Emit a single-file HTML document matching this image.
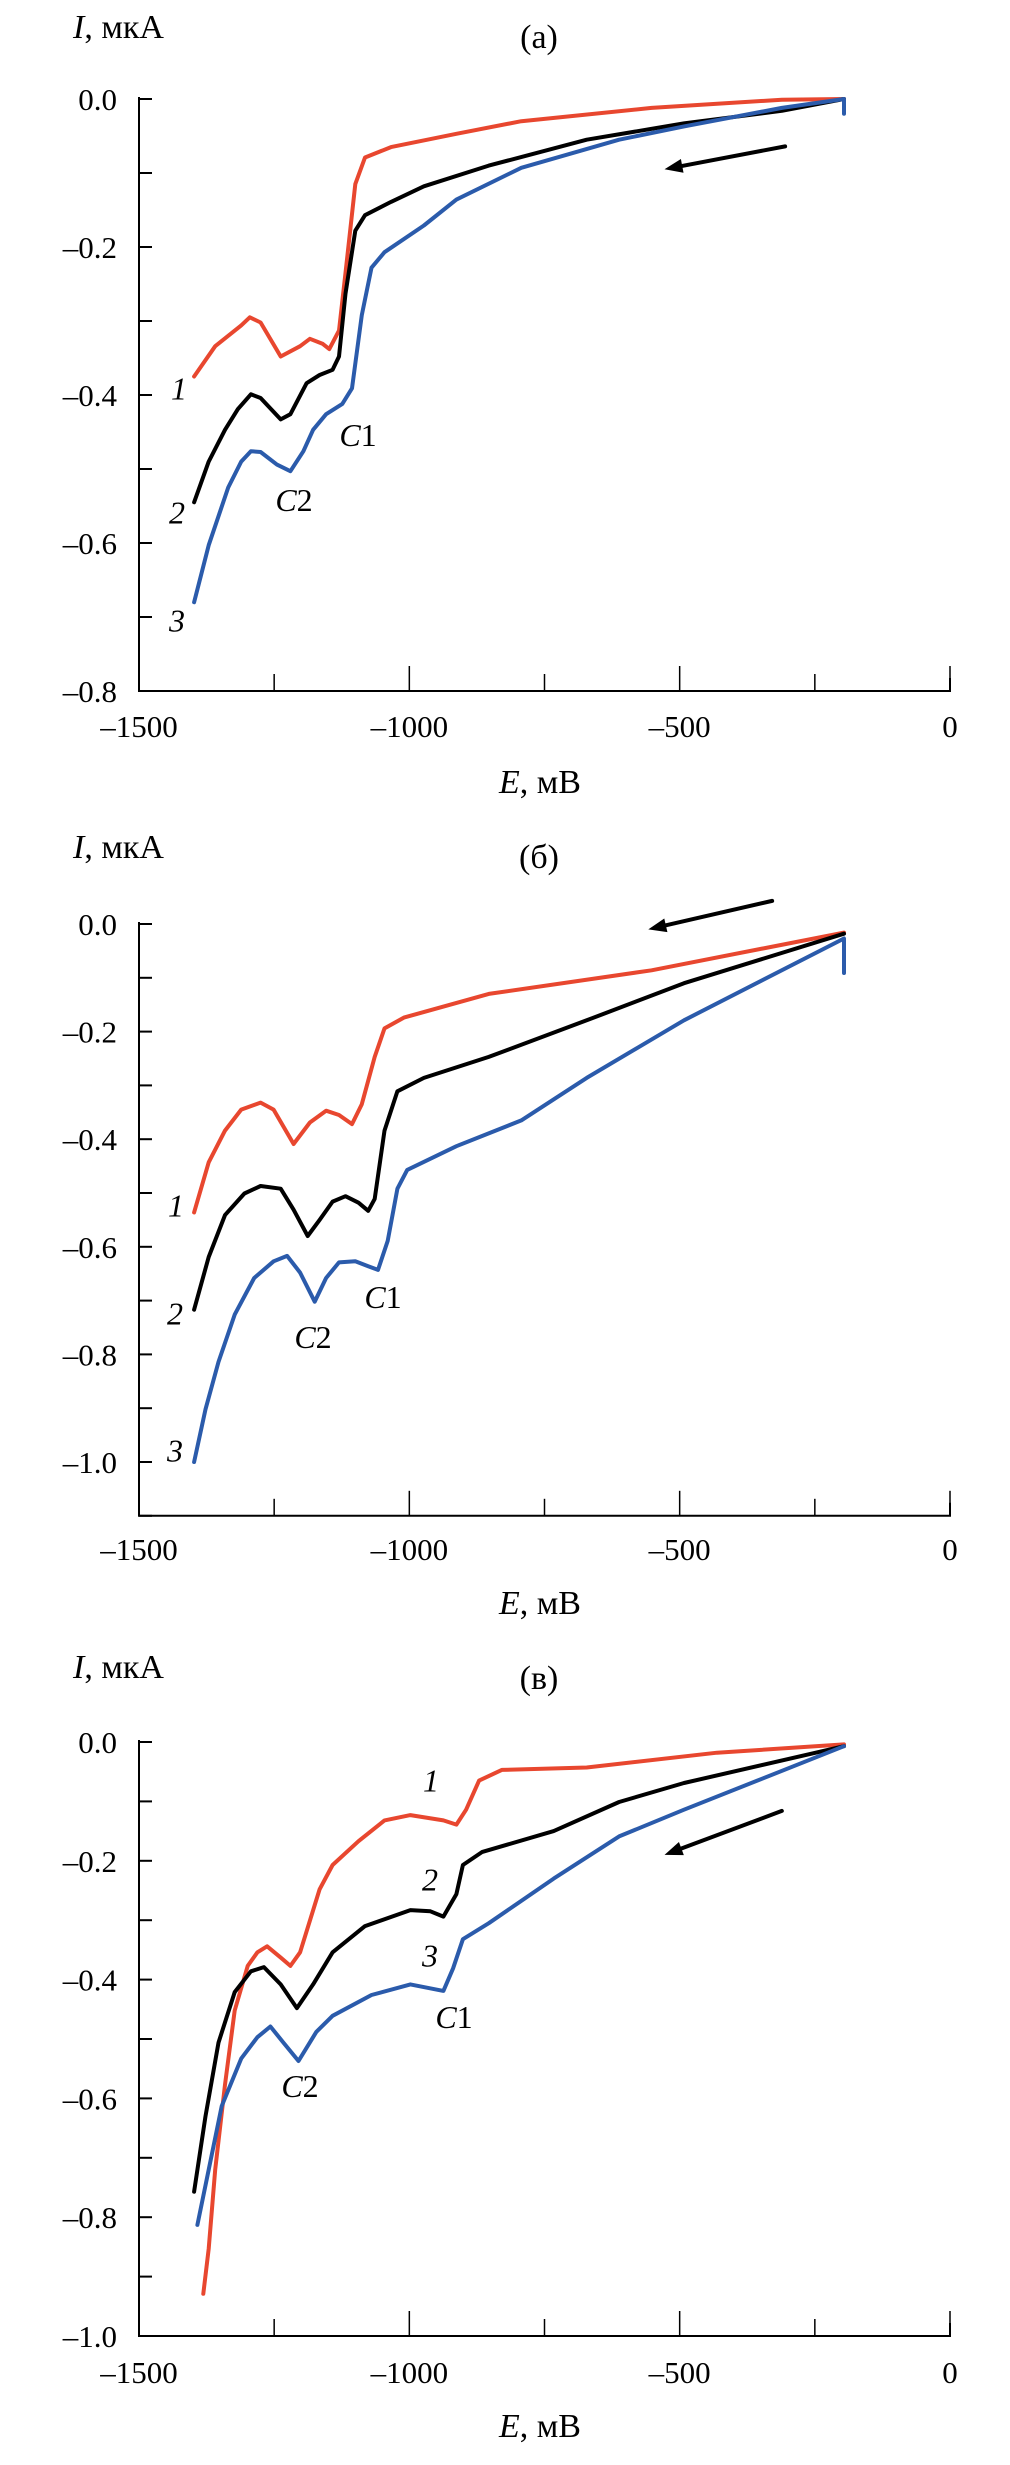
<!DOCTYPE html>
<html><head><meta charset="utf-8"><style>
html,body{margin:0;padding:0;background:#fff;}
svg{display:block;}
text{font-family:"Liberation Serif",serif;fill:#000;}
</style></head><body>
<svg id="chart" width="1010" height="2465" viewBox="0 0 1010 2465" xmlns="http://www.w3.org/2000/svg"></svg>
<script>
// ---- Data (E in mV, I in µA) ----
const aRedE=[-1398,-1359,-1311,-1295,-1275,-1238,-1202,-1184,-1160,-1148,-1130,-1118,-1100,-1082,-1034,-913,-793,-552,-311,-196];
const aRedI=[-0.375,-0.334,-0.306,-0.295,-0.302,-0.348,-0.334,-0.324,-0.331,-0.338,-0.313,-0.235,-0.115,-0.079,-0.065,-0.047,-0.030,-0.012,-0.001,0];
const aBlkE=[-1398,-1371,-1341,-1317,-1293,-1275,-1238,-1220,-1190,-1166,-1142,-1130,-1118,-1100,-1082,-1034,-973,-853,-672,-492,-311,-196];
const aBlkI=[-0.545,-0.49,-0.447,-0.419,-0.399,-0.404,-0.433,-0.426,-0.384,-0.373,-0.366,-0.348,-0.263,-0.178,-0.157,-0.139,-0.118,-0.09,-0.055,-0.033,-0.016,0];
const aBluE=[-1398,-1371,-1335,-1311,-1293,-1275,-1245,-1220,-1196,-1178,-1154,-1124,-1106,-1088,-1070,-1046,-973,-913,-793,-612,-492,-311,-196,-196];
const aBluI=[-0.68,-0.603,-0.525,-0.49,-0.476,-0.477,-0.494,-0.503,-0.476,-0.447,-0.426,-0.412,-0.391,-0.292,-0.228,-0.207,-0.171,-0.136,-0.093,-0.055,-0.037,-0.012,0,-0.02];

const bRedE=[-1398,-1371,-1341,-1311,-1275,-1251,-1214,-1184,-1154,-1130,-1106,-1088,-1064,-1046,-1010,-853,-552,-196];
const bRedI=[-0.536,-0.443,-0.384,-0.345,-0.332,-0.345,-0.409,-0.369,-0.347,-0.355,-0.372,-0.335,-0.247,-0.194,-0.174,-0.13,-0.086,-0.016];
const bBlkE=[-1398,-1371,-1341,-1305,-1275,-1238,-1214,-1188,-1166,-1142,-1118,-1094,-1076,-1064,-1046,-1022,-973,-853,-672,-492,-196];
const bBlkI=[-0.717,-0.619,-0.541,-0.501,-0.487,-0.492,-0.531,-0.58,-0.55,-0.516,-0.506,-0.518,-0.533,-0.511,-0.384,-0.311,-0.286,-0.247,-0.179,-0.11,-0.018];
const bBluE=[-1398,-1377,-1353,-1323,-1287,-1251,-1226,-1202,-1175,-1154,-1130,-1100,-1076,-1058,-1040,-1022,-1004,-913,-793,-672,-492,-196,-196];
const bBluI=[-1.0,-0.902,-0.814,-0.726,-0.658,-0.627,-0.617,-0.648,-0.702,-0.658,-0.629,-0.627,-0.636,-0.643,-0.589,-0.492,-0.457,-0.413,-0.365,-0.286,-0.179,-0.027,-0.091];

const cRedE=[-1381,-1371,-1359,-1341,-1323,-1299,-1281,-1263,-1238,-1220,-1202,-1166,-1142,-1094,-1046,-998,-937,-913,-895,-871,-829,-672,-431,-196];
const cRedI=[-0.929,-0.853,-0.72,-0.577,-0.452,-0.377,-0.354,-0.344,-0.363,-0.377,-0.354,-0.248,-0.207,-0.167,-0.132,-0.123,-0.132,-0.139,-0.114,-0.065,-0.047,-0.043,-0.018,-0.004];
const cBlkE=[-1398,-1377,-1353,-1323,-1293,-1269,-1238,-1208,-1178,-1142,-1082,-998,-961,-937,-913,-901,-865,-733,-612,-492,-196];
const cBlkI=[-0.757,-0.63,-0.506,-0.421,-0.386,-0.379,-0.408,-0.448,-0.408,-0.354,-0.31,-0.283,-0.285,-0.294,-0.256,-0.207,-0.185,-0.15,-0.101,-0.069,-0.007];
const cBluE=[-1392,-1371,-1347,-1311,-1281,-1257,-1233,-1205,-1172,-1142,-1070,-998,-937,-919,-901,-853,-733,-612,-492,-196];
const cBluI=[-0.813,-0.72,-0.613,-0.533,-0.497,-0.479,-0.506,-0.537,-0.488,-0.461,-0.426,-0.408,-0.419,-0.381,-0.332,-0.305,-0.23,-0.159,-0.114,-0.007];

const xTickValues=[-1500,-1250,-1000,-750,-500,-250,0];
const xTickLabels=["\u20131500","","\u20131000","","\u2013500","","0"];

const svg=document.getElementById('chart');
const NS='http://www.w3.org/2000/svg';
function mk(tag,attrs,parent){const e=document.createElementNS(NS,tag);for(const k in attrs)e.setAttribute(k,attrs[k]);(parent||svg).appendChild(e);return e;}
const COLORS={red:'#e8472f',black:'#000',blue:'#2b5bab'};

const panels=[
 {id:'a',title:'(a)',top:0,y0:99,pxPerUnit:740,yMin:-0.8,yLabels:[0,-0.2,-0.4,-0.6,-0.8],
  series:[['red',aRedE,aRedI],['black',aBlkE,aBlkI],['blue',aBluE,aBluI]],
  arrow:[-305,-0.064,-528,-0.095],
  labels:[['1',179,392],['2',177,516],['3',177,624],['C1',358,439],['C2',294,504]],
  titleY:37,iY:38,tickY:737,eY:793},
 {id:'b',title:'(б)',top:820,y0:924,pxPerUnit:538,yMin:-1.1,yLabels:[0,-0.2,-0.4,-0.6,-0.8,-1.0],
  series:[['red',bRedE,bRedI],['black',bBlkE,bBlkI],['blue',bBluE,bBluI]],
  arrow:[-329,0.043,-558,-0.010],
  labels:[['1',176,1209],['2',175,1317],['3',175,1454],['C1',383,1301],['C2',313,1341]],
  titleY:857,iY:858,tickY:1560,eY:1614},
 {id:'c',title:'(в)',top:1640,y0:1742,pxPerUnit:594,yMin:-1.0,yLabels:[0,-0.2,-0.4,-0.6,-0.8,-1.0],
  series:[['red',cRedE,cRedI],['black',cBlkE,cBlkI],['blue',cBluE,cBluI]],
  arrow:[-311,-0.116,-528,-0.19],
  labels:[['1',431,1784],['2',430,1883],['3',430,1959],['C1',454,2021],['C2',300,2090]],
  titleY:1678,iY:1678,tickY:2383,eY:2437}
];
const X0=139,X1=950;
function xs(E){return X0+(E+1500)/1500*(X1-X0);}

panels.forEach(p=>{
  const ys=v=>p.y0-v*p.pxPerUnit;
  const g=mk('g',{});
  
  
  const yb=ys(p.yMin);
  const ax=mk('path',{d:`M${X0},${ys(0)-2}V${yb}H${X1}V${yb-13}`,stroke:'#000','stroke-width':2,fill:'none'},g);
  
  
  for(let v=0;v>=p.yMin-1e-9;v-=0.1){
    const t=mk('line',{x1:X0,x2:X0+13,y1:ys(v),y2:ys(v),stroke:'#000','stroke-width':2},g);
    
    
  }
  p.yLabels.forEach(v=>{
    const t=mk('text',{x:117,y:ys(v)+11,'text-anchor':'end','font-size':31},g);
    t.textContent=(v===0?'0.0':'\u2013'+Math.abs(v).toFixed(1));
    
    
  });
  xTickValues.forEach((v,i)=>{
    const major=(v%500===0);
    const t=mk('line',{x1:xs(v),x2:xs(v),y1:yb,y2:yb-(major?25:17),stroke:'#000','stroke-width':1.5},g);
    
    
    if(xTickLabels[i]){
      const l=mk('text',{x:xs(v),y:p.tickY,'text-anchor':'middle','font-size':31},g);
      l.textContent=xTickLabels[i];
      
      
    }
  });
  p.series.forEach(s=>{
    const [c,E,I]=s;
    const d=E.map((e,k)=>(k?'L':'M')+xs(e).toFixed(1)+','+ys(I[k]).toFixed(1)).join('');
    const pl=mk('path',{d:d,stroke:COLORS[c],'stroke-width':4,fill:'none','stroke-linejoin':'round','stroke-linecap':'round'},g);
    
    
  });
  const [e1,i1,e2,i2]=p.arrow;
  const x1=xs(e1),y1=ys(i1),x2=xs(e2),y2=ys(i2);
  const ang=Math.atan2(y2-y1,x2-x1),L=18,W=7;
  const bx=x2-L*Math.cos(ang),by=y2-L*Math.sin(ang);
  const ar=mk('g',{},g);
  
  
  mk('line',{x1:x1,y1:y1,x2:bx,y2:by,stroke:'#000','stroke-width':4,'stroke-linecap':'round'},ar);
  mk('polygon',{points:`${x2},${y2} ${bx-W*Math.sin(ang)},${by+W*Math.cos(ang)} ${bx+W*Math.sin(ang)},${by-W*Math.cos(ang)}`,fill:'#000'},ar);
  p.labels.forEach(l=>{
    const t=mk('text',{x:l[1],y:l[2],'text-anchor':'middle','dominant-baseline':'middle','font-size':32,'font-style':'italic'},g);
    if(l[0].length===2){const a=mk('tspan',{},t);a.textContent='C';const b=mk('tspan',{'font-style':'normal'},t);b.textContent=l[0][1];}
    else t.textContent=l[0];
    
    
  });
  const tt=mk('text',{x:539,y:p.titleY+11,'text-anchor':'middle','font-size':34},g);
  tt.textContent=p.title;
  
  
  const it=mk('text',{x:73,y:p.iY,'font-size':34},g);
  const i1s=mk('tspan',{'font-style':'italic'},it);i1s.textContent='I';
  const i2s=mk('tspan',{},it);i2s.textContent=', мкА';
  
  
  const et=mk('text',{x:540,y:p.eY,'text-anchor':'middle','font-size':34},g);
  const e1s=mk('tspan',{'font-style':'italic'},et);e1s.textContent='E';
  const e2s=mk('tspan',{},et);e2s.textContent=', мВ';
  
  
});
</script>
</body></html>
